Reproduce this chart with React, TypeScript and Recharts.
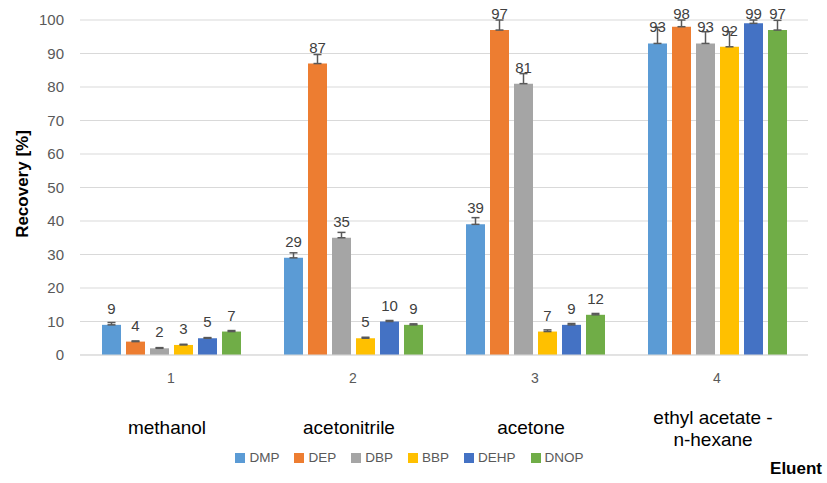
import React from 'react';
import { BarChart, Bar, XAxis, YAxis, CartesianGrid, ErrorBar, LabelList, Legend } from 'recharts';

const categories = ['1', '2', '3', '4'];
const eluents = [['methanol'], ['acetonitrile'], ['acetone'], ['ethyl acetate -', 'n-hexane']];
const seriesNames = ['DMP', 'DEP', 'DBP', 'BBP', 'DEHP', 'DNOP'];
const seriesColors = ['#5B9BD5', '#ED7D31', '#A5A5A5', '#FFC000', '#4472C4', '#70AD47'];

const DMP = [9, 29, 39, 93];
const DEP = [4, 87, 97, 98];
const DBP = [2, 35, 81, 93];
const BBP = [3, 5, 7, 92];
const DEHP = [5, 10, 9, 99];
const DNOP = [7, 9, 12, 97];

const DMP_err = [0.7, 1.5, 2, 4.8];
const DEP_err = [0.2, 2.7, 3, 2];
const DBP_err = [0.2, 1.6, 3, 3.5];
const BBP_err = [0.2, 0.3, 0.5, 4.5];
const DEHP_err = [0.2, 0.3, 0.4, 1];
const DNOP_err = [0.3, 0.3, 0.4, 2.9];

const yTicks = [0, 10, 20, 30, 40, 50, 60, 70, 80, 90, 100];

const values = [DMP, DEP, DBP, BBP, DEHP, DNOP];
const errors = [DMP_err, DEP_err, DBP_err, BBP_err, DEHP_err, DNOP_err];

const data = categories.map((c, i) => {
  const row: any = { cat: c, idx: i };
  seriesNames.forEach((s, k) => {
    row[s] = values[k][i];
    row[s + '_err'] = [0, errors[k][i]];
  });
  return row;
});

const FONT = '"Liberation Sans", Arial, sans-serif';

const CategoryTick = (props: any) => {
  const { x, y, payload } = props;
  const idx = categories.indexOf(payload.value);
  const lines = eluents[idx] || [];
  const twoLine = lines.length > 1;
  return (
    <g>
      <text x={x} y={y + 28} textAnchor="middle" fontSize={14} fill="#595959" fontFamily={FONT}>
        {payload.value}
      </text>
      {lines.map((l, j) => (
        <text
          key={j}
          x={x - 4}
          y={(twoLine ? y + 69 : y + 79) + j * 22}
          textAnchor="middle"
          fontSize={19}
          fill="#000000"
          fontFamily={FONT}
        >
          {l}
        </text>
      ))}
    </g>
  );
};

const ValueLabel = (props: any) => {
  const { x, y, width, value } = props;
  const baseline = Math.max(y - 11, 19);
  return (
    <text x={x + width / 2} y={baseline} textAnchor="middle" fontSize={15} fill="#404040" fontFamily={FONT}>
      {value}
    </text>
  );
};

const LegendContent = () => (
  <div
    style={{
      display: 'flex',
      justifyContent: 'center',
      alignItems: 'center',
      fontFamily: FONT,
      fontSize: 13.5,
      color: '#595959',
      paddingRight: 8,
    }}
  >
    {seriesNames.map((s, k) => (
      <div key={s} style={{ display: 'flex', alignItems: 'center', marginRight: k < seriesNames.length - 1 ? 15 : 0 }}>
        <span style={{ display: 'inline-block', width: 10, height: 10, background: seriesColors[k], marginRight: 4 }} />
        <span>{s}</span>
      </div>
    ))}
  </div>
);

export default function App() {
  return (
    <div style={{ position: 'absolute', left: 0, top: 0, width: 827, height: 483, background: '#fff' }}>
      <BarChart
        width={827}
        height={483}
        data={data}
        margin={{ top: 20, right: 19, bottom: 0, left: 0 }}
        barSize={19}
        barGap={5}
      >
        <CartesianGrid vertical={false} stroke="#D9D9D9" strokeWidth={1} />
        <XAxis
          dataKey="cat"
          height={128}
          tickLine={false}
          tickSize={0}
          tickMargin={0}
          axisLine={{ stroke: '#D9D9D9' }}
          tick={<CategoryTick />}
          interval={0}
          label={(p: any) => {
            const vb = p.viewBox || {};
            return (
              <text
                x={(vb.x ?? 80) + (vb.width ?? 728) + 14}
                y={474}
                textAnchor="end"
                fontSize={17}
                fontWeight="bold"
                fill="#000"
                fontFamily={FONT}
              >
                Eluent
              </text>
            );
          }}
        />
        <YAxis
          width={80}
          domain={[0, 100]}
          ticks={yTicks}
          allowDataOverflow
          axisLine={false}
          tickLine={false}
          tickSize={0}
          tickMargin={16}
          tick={{ fontSize: 15, fill: '#595959', fontFamily: FONT }}
          label={() => (
            <text
              x={0}
              y={0}
              transform="translate(28, 184) rotate(-90)"
              textAnchor="middle"
              fontSize={17}
              fontWeight="bold"
              fill="#000"
              fontFamily={FONT}
            >
              Recovery [%]
            </text>
          )}
        />
        <Legend
          layout="horizontal"
          verticalAlign="middle"
          align="center"
          content={<LegendContent />}
          wrapperStyle={{ top: 450, left: 0, width: 827, height: 20 }}
        />
        {seriesNames.map((s, k) => (
          <Bar key={s} dataKey={s} fill={seriesColors[k]} isAnimationActive={false}>
            <ErrorBar dataKey={s + '_err'} width={4} stroke="#595959" strokeWidth={1.5} direction="y" />
            <LabelList dataKey={s} content={<ValueLabel />} />
          </Bar>
        ))}
      </BarChart>
    </div>
  );
}
